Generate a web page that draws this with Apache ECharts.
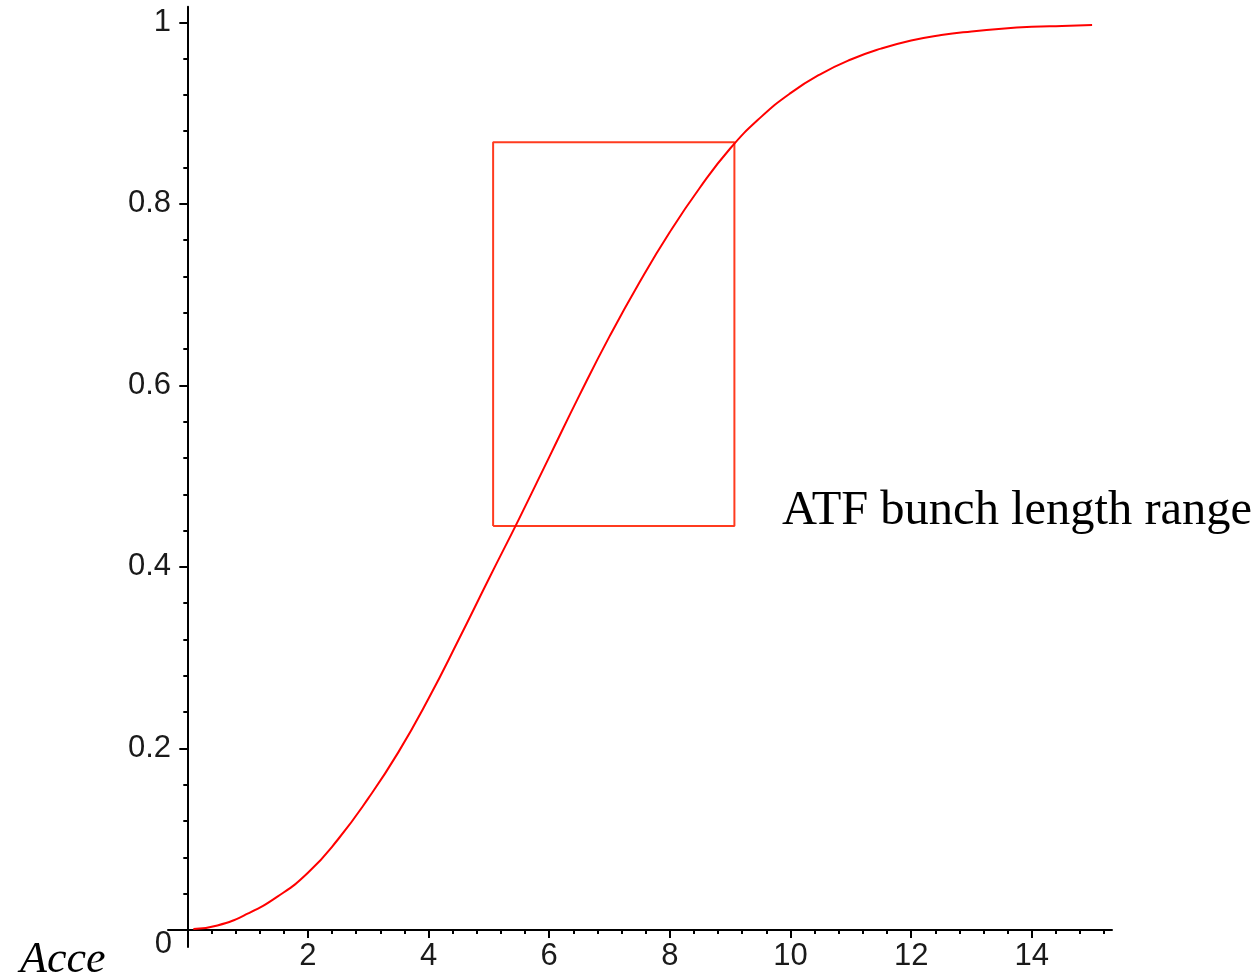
<!DOCTYPE html>
<html>
<head>
<meta charset="utf-8">
<script src="https://cdn.jsdelivr.net/npm/echarts@6/dist/echarts.min.js"></script>
<style>
html,body{margin:0;padding:0;background:#fff;}
#c{width:1259px;height:976px;}
</style>
</head>
<body>
<div id="c"></div>
<script>
// ---- data ----
const curveX = [0.1, 0.5, 1, 1.5, 2, 2.5, 3, 3.5, 4, 4.5, 5, 5.5, 6, 6.5, 7, 7.5, 8, 8.5, 9, 9.5, 10, 10.5, 11, 11.5, 12, 12.5, 13, 13.5, 14, 14.5, 15];
const curveY = [0.001, 0.005, 0.018, 0.037, 0.063, 0.100, 0.145, 0.196, 0.255, 0.320, 0.387, 0.453, 0.521, 0.589, 0.654, 0.714, 0.769, 0.818, 0.861, 0.895, 0.922, 0.943, 0.959, 0.971, 0.980, 0.986, 0.990, 0.993, 0.995, 0.996, 0.997];
const boxX = [5.07, 9.07];
const boxY = [0.445, 0.868];
const xTickLabels = [2, 4, 6, 8, 10, 12, 14];
const yTickLabels = [0.2, 0.4, 0.6, 0.8, 1];
const xMajorTicks = [0, 2, 4, 6, 8, 10, 12, 14];
const xMinorTicks = [0.4, 0.8, 1.2, 1.6, 2.4, 2.8, 3.2, 3.6, 4.4, 4.8, 5.2, 5.6, 6.4, 6.8, 7.2, 7.6, 8.4, 8.8, 9.2, 9.6, 10.4, 10.8, 11.2, 11.6, 12.4, 12.8, 13.2, 13.6, 14.4, 14.8, 15.2];
const yMajorTicks = [0, 0.2, 0.4, 0.6, 0.8, 1];
const yMinorTicks = [0.04, 0.08, 0.12, 0.16, 0.24, 0.28, 0.32, 0.36, 0.44, 0.48, 0.52, 0.56, 0.64, 0.68, 0.72, 0.76, 0.84, 0.88, 0.92, 0.96];
const originLabel = '0';
const annotationText = 'ATF bunch length range';
const cornerText = 'Acce';

// ---- build ----
const curveData = curveX.map((x, i) => [x, curveY[i]]);
const boxData = [
  [boxX[0], boxY[0]], [boxX[1], boxY[0]], [boxX[1], boxY[1]], [boxX[0], boxY[1]], [boxX[0], boxY[0]]
];

const X_MIN = -0.32, X_MAX = 15.33, Y_MIN = -0.0187, Y_MAX = 1.0172;
const tickStyle = { color: '#000', width: 2 };
const labelFont = { fontFamily: 'Liberation Sans', fontSize: 31, color: '#1a1a1a' };

const chart = echarts.init(document.getElementById('c'), null, { renderer: 'canvas' });
chart.setOption({
  animation: false,
  backgroundColor: '#fff',
  grid: { left: 168, right: 147, top: 6.7, bottom: 29, containLabel: false, outerBoundsMode: 'none' },
  xAxis: [
    {
      type: 'value', min: X_MIN, max: X_MAX, position: 'bottom',
      axisLine: { show: true, onZero: true, onZeroAxisIndex: 0, lineStyle: { color: '#000', width: 2 } },
      axisTick: { show: true, inside: false, length: 8, customValues: xMajorTicks, lineStyle: tickStyle },
      axisLabel: Object.assign({ show: true, margin: -6, customValues: xTickLabels }, labelFont),
      splitLine: { show: false }
    },
    {
      type: 'value', min: X_MIN, max: X_MAX, position: 'bottom',
      axisLine: { show: false, onZero: true, onZeroAxisIndex: 1 },
      axisTick: { show: true, inside: false, length: 4, customValues: xMinorTicks, lineStyle: tickStyle },
      axisLabel: { show: false },
      splitLine: { show: false }
    }
  ],
  yAxis: [
    {
      type: 'value', min: Y_MIN, max: Y_MAX, position: 'left',
      axisLine: { show: true, onZero: true, onZeroAxisIndex: 0, lineStyle: { color: '#000', width: 2 } },
      axisTick: { show: true, inside: false, length: 8, customValues: yMajorTicks, lineStyle: tickStyle },
      axisLabel: Object.assign({ show: true, margin: -3, customValues: yTickLabels }, labelFont),
      splitLine: { show: false }
    },
    {
      type: 'value', min: Y_MIN, max: Y_MAX, position: 'left',
      axisLine: { show: false, onZero: true, onZeroAxisIndex: 1 },
      axisTick: { show: true, inside: false, length: 4, customValues: yMinorTicks, lineStyle: tickStyle },
      axisLabel: { show: false },
      splitLine: { show: false }
    }
  ],
  series: [
    {
      type: 'line', xAxisIndex: 0, yAxisIndex: 0, data: curveData,
      smooth: 0.5, showSymbol: false, symbol: 'none',
      lineStyle: { color: '#ff0000', width: 2 }, z: 3
    },
    {
      type: 'line', xAxisIndex: 0, yAxisIndex: 0, data: boxData,
      smooth: false, showSymbol: false, symbol: 'none',
      lineStyle: { color: '#ff3b1f', width: 2 }, z: 2
    }
  ]
});

const o = chart.convertToPixel({ xAxisIndex: 0, yAxisIndex: 0 }, [0, 0]);
chart.setOption({
  graphic: [
    {
      type: 'text', x: o[0] - 24, y: o[1] + 14, z: 10,
      style: { text: originLabel, fontFamily: 'Liberation Sans', fontSize: 31, fill: '#1a1a1a', align: 'center', verticalAlign: 'middle' }
    },
    {
      type: 'text', left: 782, top: 487, z: 10,
      style: { text: annotationText, fontFamily: 'Liberation Serif', fontSize: 48.5, fill: '#000' }
    },
    {
      type: 'text', left: 20, top: 938, z: 10,
      style: { text: cornerText, fontFamily: 'Liberation Serif', fontStyle: 'italic', fontSize: 44, fill: '#000' }
    }
  ]
});
</script>
</body>
</html>
